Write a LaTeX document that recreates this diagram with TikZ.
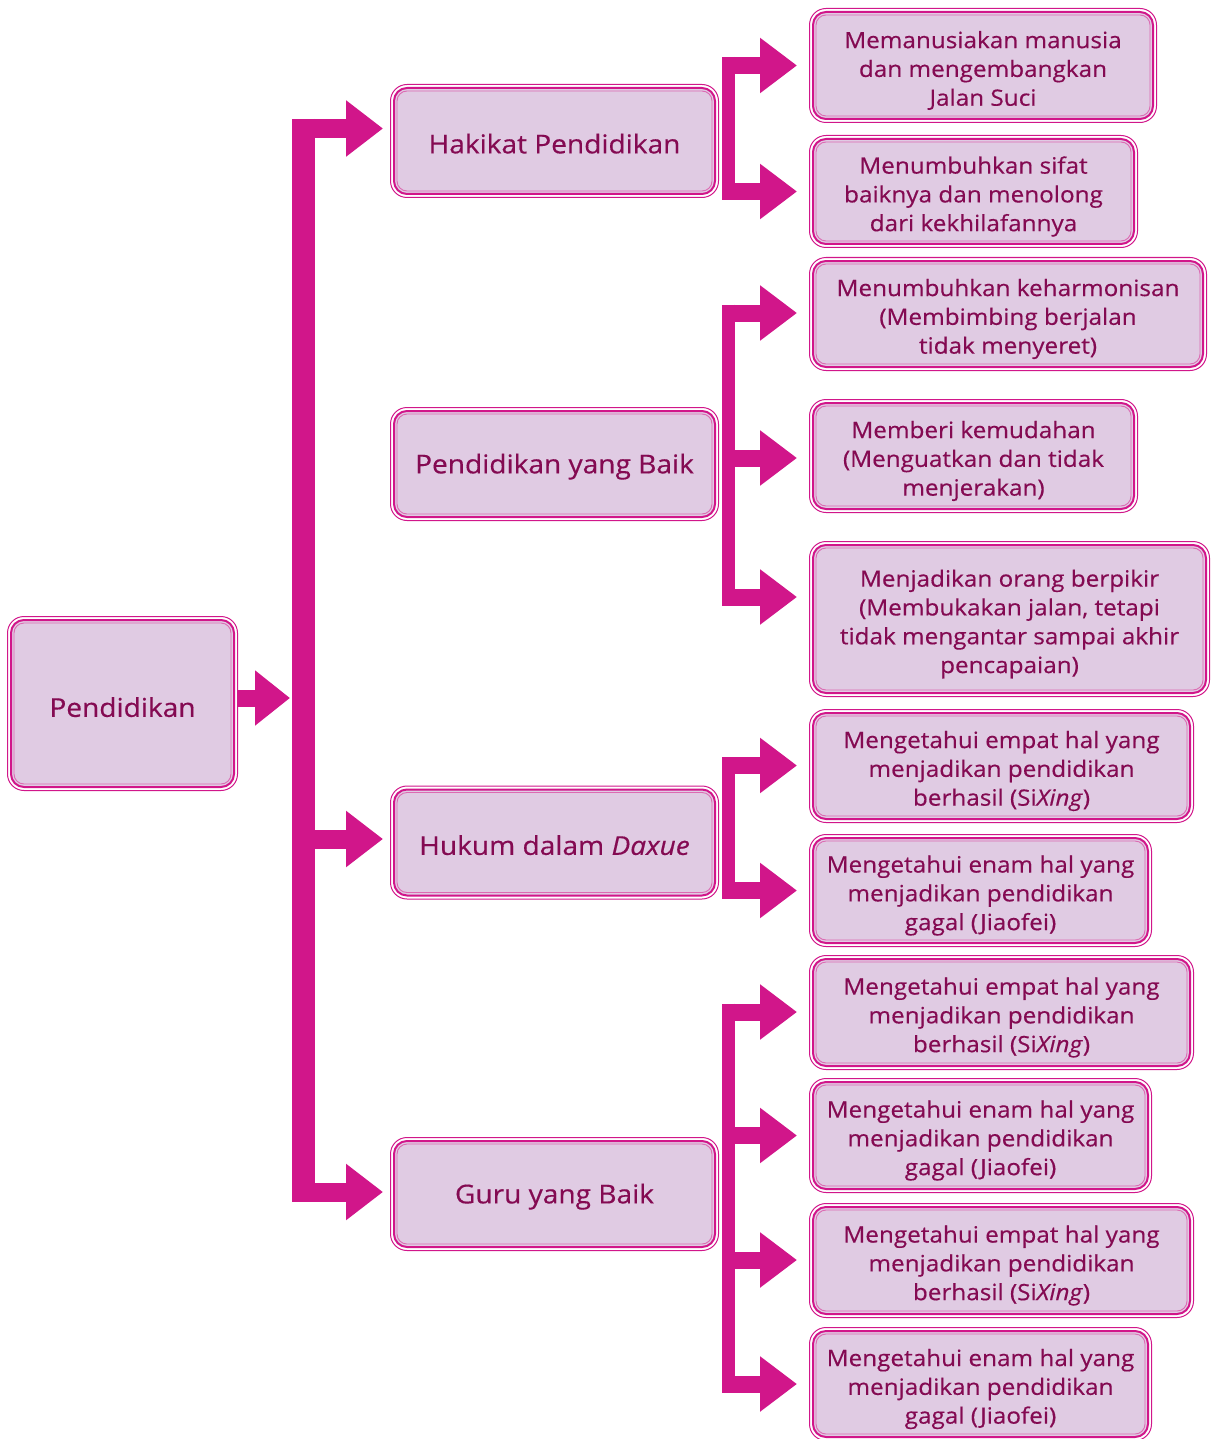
\documentclass[tikz,border=0pt]{standalone}
\usepackage{fontspec}
\setmainfont[FakeStretch=1.08,FakeBold=0.4]{Open Sans}
\usetikzlibrary{arrows.meta}
\definecolor{pk}{HTML}{D1168A}
\definecolor{lav}{HTML}{E0CBE3}
\definecolor{tx}{HTML}{840A52}
\definecolor{pkl}{HTML}{DC6AB2}
\newcommand\boxtwo[5]{%
  \node[ltwo, minimum width=#3, minimum height=#4] (#1) at (813,#2) {};
  \node[txt2] (#1t) at ([yshift=-5pt]#1.center) {#5};
}
\begin{document}
\begin{tikzpicture}[x=1pt,y=-1pt,
  box/.style={draw=pk, line width=2pt, fill=lav, rounded corners=13pt, outer sep=0pt, inner sep=0pt, align=center, text=tx},
  lone/.style={box, font=\fontsize{26}{30}\selectfont, minimum width=321pt, minimum height=106pt, execute at begin node={\rule{0pt}{25pt}}},
  ltwo/.style={box, anchor=west},
  txt2/.style={align=center, text=tx, inner sep=0pt, font=\fontsize{22.5}{28.8}\selectfont},
  outerline/.style={draw=pk, line width=1pt, rounded corners=16.5pt},
  innerline/.style={draw=pkl, line width=0.9pt, rounded corners=10pt},
  bigarrow/.style={draw=pk, line width=19pt, -{Triangle[length=37pt,width=54pt]}},
  smallarrow/.style={draw=pk, line width=17pt, -{Triangle[length=37pt,width=53pt]}},
  trunk/.style={draw=pk, line width=23pt},
  bar/.style={draw=pk, line width=13.5pt},
]
\useasboundingbox (0,0) rectangle (1211,1439);

% root
\node[box, font=\fontsize{26}{30}\selectfont, minimum width=223pt, minimum height=167pt, execute at begin node={\rule{0pt}{27pt}}] (p) at (122.5,703.5) {Pendidikan};

% level 1
\node[lone] (h1) at (554.5,141) {Hakikat Pendidikan};
\node[lone] (h2) at (554.5,464) {Pendidikan yang Baik};
\node[lone] (h3) at (554.5,842.5) {Hukum dalam \textit{Daxue}};
\node[lone] (h4) at (554.5,1194) {Guru yang Baik};

% level 2
\boxtwo{b1}{65.5}{340pt}{107pt}{Memanusiakan manusia\\dan mengembangkan\\Jalan Suci}
\boxtwo{b2}{191.5}{321pt}{105pt}{Menumbuhkan sifat\\baiknya dan menolong\\dari kekhilafannya}
\boxtwo{b3}{314}{390pt}{106pt}{Menumbuhkan keharmonisan\\(Membimbing berjalan\\tidak menyeret)}
\boxtwo{b4}{456}{321pt}{106pt}{Memberi kemudahan\\(Menguatkan dan tidak\\menjerakan)}
\boxtwo{b5}{619}{393pt}{148pt}{Menjadikan orang berpikir\\(Membukakan jalan, tetapi\\tidak mengantar sampai akhir\\pencapaian)}
\boxtwo{b6}{766}{377pt}{106pt}{Mengetahui empat hal yang\\menjadikan pendidikan\\berhasil (Si\textit{Xing})}
\boxtwo{b7}{890.5}{335pt}{105pt}{Mengetahui enam hal yang\\menjadikan pendidikan\\gagal (Jiaofei)}
\boxtwo{b8}{1012.5}{377pt}{107pt}{Mengetahui empat hal yang\\menjadikan pendidikan\\berhasil (Si\textit{Xing})}
\boxtwo{b9}{1135.5}{335pt}{107pt}{Mengetahui enam hal yang\\menjadikan pendidikan\\gagal (Jiaofei)}
\boxtwo{b10}{1260.5}{377pt}{107pt}{Mengetahui empat hal yang\\menjadikan pendidikan\\berhasil (Si\textit{Xing})}
\boxtwo{b11}{1384}{335pt}{106pt}{Mengetahui enam hal yang\\menjadikan pendidikan\\gagal (Jiaofei)}

% extra border lines
\foreach \n in {p,h1,h2,h3,h4,b1,b2,b3,b4,b5,b6,b7,b8,b9,b10,b11} {
  \draw[outerline] ([shift={(-3.5,-3.5)}]\n.north west) rectangle ([shift={(3.5,3.5)}]\n.south east);
  \draw[innerline] ([shift={(3,3)}]\n.north west) rectangle ([shift={(-3,-3)}]\n.south east);
}

% trunk
\coordinate (ttop) at (303.5,119);
\coordinate (tbot) at (303.5,1201);
\draw[trunk] (ttop) -- (tbot);
\draw[draw=pk, line width=17pt, -{Triangle[length=35pt,width=53pt]}] ([xshift=4pt]p.east |- 0,698) -- (290,698);
\draw[bigarrow, shorten >=11pt] (292,128.5) -- (h1.west |- 0,128.5);
\draw[bigarrow, shorten >=11pt] (292,839) -- (h3.west |- 0,839);
\draw[bigarrow, shorten >=11pt] (292,1192) -- (h4.west |- 0,1192);

% group 1
\draw[bar] (728.5,57) -- (728.5,200);
\draw[smallarrow, shorten >=16pt] (722,65.5) -- (b1.west |- 0,65.5);
\draw[smallarrow, shorten >=16pt] (722,191.5) -- (b2.west |- 0,191.5);
% group 2
\draw[bar] (728.5,304.5) -- (728.5,605.5);
\draw[smallarrow, shorten >=16pt] (722,313) -- (b3.west |- 0,313);
\draw[smallarrow, shorten >=16pt] (722,458) -- (b4.west |- 0,458);
\draw[smallarrow, shorten >=16pt] (722,597) -- (b5.west |- 0,597);
% group 3
\draw[bar] (728.5,757) -- (728.5,899);
\draw[smallarrow, shorten >=16pt] (722,765.5) -- (b6.west |- 0,765.5);
\draw[smallarrow, shorten >=16pt] (722,890.5) -- (b7.west |- 0,890.5);
% group 4
\draw[bar] (728.5,1003.5) -- (728.5,1392.5);
\draw[smallarrow, shorten >=16pt] (722,1012) -- (b8.west |- 0,1012);
\draw[smallarrow, shorten >=16pt] (722,1135.5) -- (b9.west |- 0,1135.5);
\draw[smallarrow, shorten >=16pt] (722,1260) -- (b10.west |- 0,1260);
\draw[smallarrow, shorten >=16pt] (722,1384) -- (b11.west |- 0,1384);
\end{tikzpicture}
\end{document}
